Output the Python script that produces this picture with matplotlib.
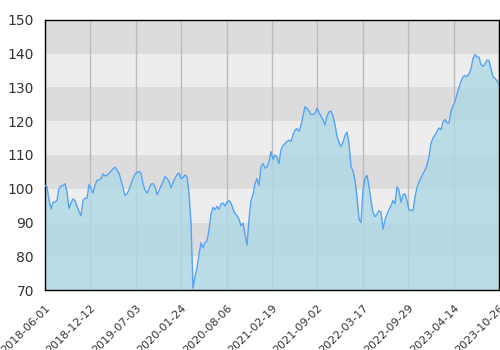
import numpy as np
import matplotlib
matplotlib.use('Agg')
import matplotlib.pyplot as plt

tick_labels = ['2018-06-01', '2018-12-12', '2019-07-03', '2020-01-24', '2020-08-06',
               '2021-02-19', '2021-09-02', '2022-03-17', '2022-09-29', '2023-04-14',
               '2023-10-26']

values = [
    101.0, 100.6, 96.7, 94.0, 96.0, 96.0, 96.6, 100.1, 100.8, 101.0,
    101.5, 99.0, 94.2, 95.8, 97.0, 96.5, 94.8, 93.2, 92.0, 96.5,
    97.2, 97.2, 101.2, 100.0, 98.8, 101.0, 102.5, 102.6, 103.0, 104.4,
    103.8, 104.0, 104.6, 105.2, 105.9, 106.4, 105.5, 104.6, 102.6, 100.3,
    98.0, 98.5, 99.6, 101.5, 103.0, 104.3, 104.8, 105.1, 104.6, 101.5,
    99.6, 98.7, 100.0, 101.4, 101.5, 100.6, 98.3, 99.4, 100.8, 102.1,
    103.6, 103.0, 102.2, 100.3, 101.8, 103.1, 104.2, 104.6, 103.0, 103.3,
    104.1, 103.5, 98.6, 89.8, 70.5, 73.9, 76.5, 80.5, 84.0, 82.5,
    84.0, 84.5, 87.8, 92.5, 94.5, 93.8, 94.8, 93.9, 95.5, 95.8,
    94.9, 96.0, 96.5, 95.8, 94.0, 92.7, 92.0, 91.0, 89.0, 89.8,
    86.5, 83.3, 91.0, 96.5, 98.3, 101.5, 103.0, 101.0, 106.5, 107.5,
    106.1, 106.5, 108.0, 111.0, 108.7, 110.0, 109.3, 107.5, 111.5, 112.8,
    113.4, 114.0, 114.4, 114.0, 116.0, 117.4, 117.8, 117.0, 118.8, 121.5,
    124.3, 123.8, 123.0, 122.0, 122.0, 122.3, 123.8, 122.5, 121.5, 120.4,
    118.9, 121.5, 122.8, 123.0, 121.5, 119.0, 115.5, 113.8, 112.5, 113.8,
    115.8, 116.8, 113.5, 106.5, 105.3, 102.5, 97.5, 91.0, 90.0, 99.5,
    103.0, 104.0, 100.6, 96.5, 93.0, 91.7, 92.5, 93.5, 93.0, 88.0,
    90.7, 92.5, 93.8, 95.0, 96.5, 95.5, 100.6, 99.5, 96.0, 98.2,
    98.5, 96.5, 93.7, 93.7, 93.4, 97.6, 100.3, 102.0, 103.2, 104.5,
    105.5, 107.0, 109.5, 113.5, 115.0, 115.9, 117.0, 118.0, 117.5, 119.8,
    120.5, 119.5, 119.5, 123.0, 124.5, 125.8, 128.0, 130.0, 131.8, 133.2,
    133.5, 133.3, 134.0, 135.5, 138.5, 139.8, 139.0, 139.0, 136.8, 136.3,
    137.0, 138.1, 138.0, 135.5, 133.2, 132.7, 132.0, 130.7,
]

y_min, y_max = 70, 150

fig = plt.figure(figsize=(5, 3.5), dpi=100)
ax = fig.add_axes([0.09, 0.1714, 0.908, 0.7715])

# alternating horizontal bands
for lo in range(y_min, y_max, 10):
    col = '#dcdcdc' if (lo // 10) % 2 == 0 else '#ededed'
    ax.axhspan(lo, lo + 10, color=col, lw=0, zorder=0)

x = np.arange(len(values))
ticks = np.linspace(0, len(values) - 1, len(tick_labels))
for t in ticks:
    ax.axvline(t, color='#bbbbbb', lw=1, zorder=1)

ax.fill_between(x, values, y_min, color='#add8e6', alpha=0.8, lw=0, zorder=2)
ax.plot(x, values, color='#55a3f2', lw=1.0, zorder=3)

ax.set_xlim(0, len(values) - 1)
ax.set_ylim(y_min, y_max)
ax.set_xticks(ticks)
ax.set_xticklabels(tick_labels, rotation=45, ha='right', rotation_mode='anchor',
                   fontsize=8, color='#333333')
ax.set_yticks(range(y_min, y_max + 1, 10))
ax.tick_params(axis='y', labelsize=10, labelcolor='#333333', length=0, pad=8)
ax.tick_params(axis='x', length=0, pad=9)
for s in ax.spines.values():
    s.set_color('black')
    s.set_linewidth(1)

fig.savefig('out.png', dpi=100)
